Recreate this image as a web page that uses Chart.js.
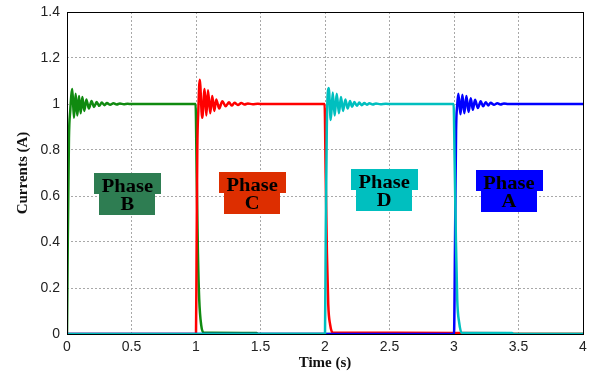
<!DOCTYPE html>
<html>
<head>
<meta charset="utf-8">
<script src="https://cdn.jsdelivr.net/npm/chart.js@4/dist/chart.umd.min.js"></script>
<style>
  html, body { margin: 0; padding: 0; background: #fff; }
  #wrap { width: 590px; height: 372px; }
</style>
</head>
<body>
<div id="wrap"><canvas id="chart"></canvas></div>
<script>
// ============================================================
//  DATA (time in s, current in A)
// ============================================================
const phaseB = [
    [0, 0], [0.006, 0.4], [0.015, 0.85], [0.025, 0.97], [0.041, 1.065], [0.054, 0.94],
    [0.067, 1.045], [0.08, 0.95], [0.093, 1.035], [0.106, 0.96], [0.119, 1.03], [0.134, 0.97],
    [0.15, 1.02], [0.17, 0.98], [0.19, 1.013], [0.21, 0.987], [0.23, 1.009], [0.25, 0.992],
    [0.27, 1.006], [0.29, 0.995], [0.31, 1.004], [0.335, 0.997], [0.36, 1.003], [0.385, 0.998],
    [0.41, 1.002], [0.44, 0.999], [0.47, 1.001], [0.5, 1.0], [0.997, 1.0],
    [1.005, 0.7], [1.015, 0.35], [1.025, 0.15], [1.04, 0.04], [1.06, 0.006],
    [1.47, 0.004], [1.48, 0], [4, 0]
];
const phaseC = [
    [0, 0], [1.0, 0], [1.004, 0.3], [1.01, 0.8], [1.018, 0.97], [1.029, 1.105], [1.048, 0.94],
    [1.067, 1.065], [1.08, 0.95], [1.093, 1.06], [1.11, 0.96], [1.126, 1.035], [1.142, 0.97],
    [1.157, 1.02], [1.18, 0.98], [1.204, 1.012], [1.23, 0.99], [1.255, 1.008], [1.277, 0.993],
    [1.299, 1.005], [1.325, 0.996], [1.351, 1.004], [1.376, 0.998], [1.402, 1.002], [1.44, 0.999],
    [1.479, 1.001], [1.52, 1.0], [1.997, 1.0],
    [2.005, 0.7], [2.015, 0.35], [2.025, 0.13], [2.04, 0.04], [2.06, 0.006],
    [2.35, 0.005], [3.45, 0.003], [3.46, 0], [4, 0]
];
const phaseD = [
    [0, 0], [2.0, 0], [2.006, 0.45], [2.014, 0.9], [2.029, 1.07], [2.045, 0.93], [2.06, 1.05],
    [2.075, 0.95], [2.091, 1.045], [2.108, 0.96], [2.124, 1.03], [2.14, 0.97], [2.158, 1.02],
    [2.176, 0.98], [2.194, 1.013], [2.21, 0.988], [2.228, 1.009], [2.247, 0.992], [2.266, 1.006],
    [2.285, 0.995], [2.305, 1.004], [2.325, 0.997], [2.344, 1.003], [2.37, 0.998], [2.395, 1.002],
    [2.43, 0.999], [2.472, 1.001], [2.51, 1.0], [2.997, 1.0],
    [3.005, 0.75], [3.015, 0.4], [3.025, 0.15], [3.04, 0.05], [3.06, 0.005],
    [3.45, 0.004], [3.46, 0], [4, 0]
];
const phaseA = [
    [0, 0], [3.0, 0], [3.008, 0.4], [3.016, 0.88], [3.024, 0.99], [3.034, 1.045], [3.05, 0.955],
    [3.065, 1.04], [3.08, 0.96], [3.096, 1.035], [3.113, 0.965], [3.13, 1.025], [3.146, 0.975],
    [3.163, 1.018], [3.185, 0.983], [3.207, 1.012], [3.226, 0.99], [3.246, 1.008], [3.265, 0.994],
    [3.284, 1.005], [3.31, 0.997], [3.336, 1.003], [3.36, 0.998], [3.387, 1.002], [3.42, 1.0],
    [4, 1.0]
];

const xTicks = [0, 0.5, 1, 1.5, 2, 2.5, 3, 3.5, 4];
const yTicks = [0, 0.2, 0.4, 0.6, 0.8, 1, 1.2, 1.4];

// phase labels: text, anchor time, anchor current (split line between the two boxes)
const labelText  = ['B', 'C', 'D', 'A'];
const labelTime  = [0.468, 1.435, 2.459, 3.426];
const labelLevel = [0.61, 0.615, 0.625, 0.62];
const labelColor = ['#2e7d52', '#dd2e00', '#00bfbf', '#0000ff'];

// ============================================================
function pts(arr) { return arr.map(p => ({ x: p[0], y: p[1] })); }

const phaseBoxes = {
    id: 'phaseBoxes',
    afterDatasetsDraw(chart) {
        const ctx = chart.ctx, xs = chart.scales.x, ys = chart.scales.y;
        ctx.save();
        labelText.forEach(function (t, i) {
            const cx = xs.getPixelForValue(labelTime[i]);
            const my = Math.round(ys.getPixelForValue(labelLevel[i]));
            ctx.fillStyle = labelColor[i];
            ctx.fillRect(Math.round(cx - 33), my - 21, 67, 21);
            ctx.fillRect(Math.round(cx - 28), my, 56, 21);
            ctx.save();
            ctx.translate(cx, 0);
            ctx.scale(1.14, 1);
            ctx.fillStyle = '#000';
            ctx.font = 'bold 18px "Liberation Serif", "DejaVu Serif", serif';
            ctx.textAlign = 'center';
            ctx.textBaseline = 'alphabetic';
            ctx.fillText('Phase', 0, my - 2);
            ctx.fillText(t, 0, my + 16);
            ctx.restore();
        });
        // frame round the plot
        const a = chart.chartArea;
        ctx.strokeStyle = '#000';
        ctx.lineWidth = 1;
        ctx.strokeRect(Math.round(a.left) + 0.5, Math.round(a.top) + 0.5,
                       Math.round(a.right - a.left), Math.round(a.bottom - a.top));
        ctx.restore();
    }
};

const gridOpts = { color: '#a8a8a8', lineWidth: 1, drawTicks: false };
const tickFont = { family: '"Liberation Sans", Arial, sans-serif', size: 14 };
const titleFont = { family: '"Liberation Serif", "Times New Roman", serif', size: 15, weight: 'bold' };

new Chart(document.getElementById('chart'), {
    type: 'line',
    data: {
        datasets: [
            { label: 'Phase D', data: pts(phaseD), borderColor: '#00bfbf', order: 0 },
            { label: 'Phase A', data: pts(phaseA), borderColor: '#0000ff', order: 1 },
            { label: 'Phase C', data: pts(phaseC), borderColor: '#ff0000', order: 2 },
            { label: 'Phase B', data: pts(phaseB), borderColor: '#108a10', order: 3 }
        ]
    },
    options: {
        responsive: true, maintainAspectRatio: false, animation: false,
        devicePixelRatio: 1,
        layout: { padding: { top: 12, right: 7, left: 0, bottom: 0 } },
        elements: {
            line: { borderWidth: 2.5, cubicInterpolationMode: 'monotone', fill: false },
            point: { radius: 0, hoverRadius: 0 }
        },
        plugins: { legend: { display: false }, tooltip: { enabled: false } },
        scales: {
            x: {
                type: 'linear', min: 0, max: 4,
                afterBuildTicks: s => { s.ticks = xTicks.map(v => ({ value: v })); },
                afterFit: s => { s.height = 38; s.paddingLeft = 0; s.paddingRight = 0; },
                grid: gridOpts,
                border: { display: false, dash: [2, 2] },
                ticks: { color: '#222', font: tickFont, padding: 5, maxRotation: 0, callback: v => String(v) },
                title: { display: true, text: 'Time (s)', color: '#111', font: titleFont, padding: { top: 0, bottom: 0 } }
            },
            y: {
                type: 'linear', min: 0, max: 1.4,
                afterBuildTicks: s => { s.ticks = yTicks.map(v => ({ value: v })); },
                afterFit: s => { s.width = 67; s.paddingTop = 0; s.paddingBottom = 0; },
                grid: gridOpts,
                border: { display: false, dash: [2, 2] },
                ticks: { color: '#222', font: tickFont, padding: 7, callback: v => String(v) },
                title: { display: true, text: 'Currents (A)', color: '#111', font: titleFont, padding: { top: 14, bottom: 0 } }
            }
        }
    },
    plugins: [phaseBoxes]
});
</script>
</body>
</html>
